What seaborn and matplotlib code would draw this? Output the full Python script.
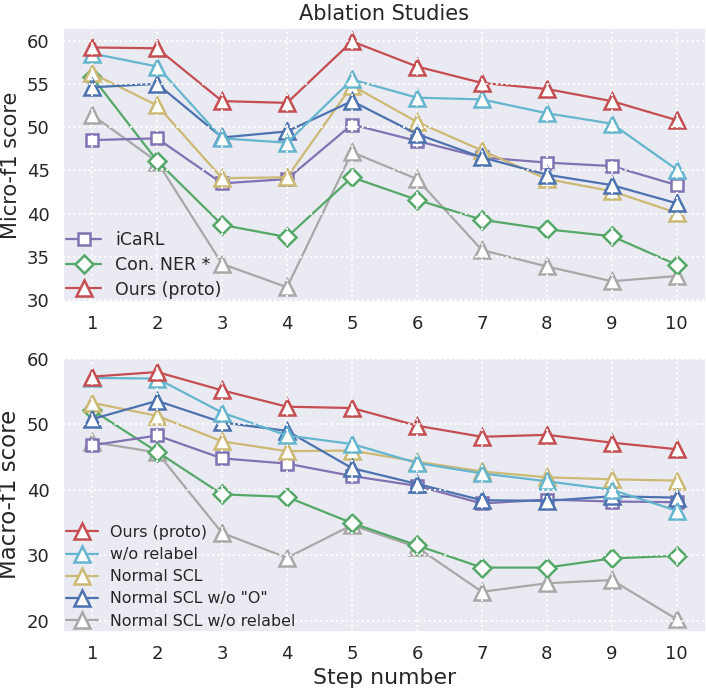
import matplotlib
matplotlib.use("Agg")
import matplotlib.pyplot as plt
import seaborn as sns

steps = [1, 2, 3, 4, 5, 6, 7, 8, 9, 10]

# Micro-f1 (top panel)
micro_icarl = [48.5, 48.7, 43.5, 44.0, 50.3, 48.4, 46.5, 45.9, 45.5, 43.3]
micro_conner = [55.8, 46.1, 38.7, 37.3, 44.2, 41.6, 39.3, 38.2, 37.4, 34.1]
micro_ours = [59.2, 59.1, 53.0, 52.8, 59.9, 57.0, 55.1, 54.4, 53.0, 50.8]
micro_norelabel = [58.5, 57.0, 48.7, 48.2, 55.5, 53.4, 53.2, 51.6, 50.4, 45.1]
micro_scl = [56.2, 52.5, 44.1, 44.2, 54.8, 50.6, 47.3, 44.0, 42.6, 40.1]
micro_scl_noO = [54.6, 55.0, 48.8, 49.5, 53.0, 49.2, 46.5, 44.5, 43.3, 41.2]
micro_scl_norelabel = [51.4, 46.0, 34.2, 31.5, 47.1, 44.0, 35.8, 33.9, 32.2, 32.8]

# Macro-f1 (bottom panel)
macro_icarl = [46.8, 48.3, 44.8, 44.0, 42.1, 40.6, 37.9, 38.5, 38.2, 38.1]
macro_conner = [52.2, 45.8, 39.3, 38.9, 34.9, 31.5, 28.1, 28.1, 29.5, 29.9]
macro_ours = [57.3, 58.0, 55.2, 52.7, 52.5, 49.8, 48.1, 48.4, 47.2, 46.2]
macro_norelabel = [57.1, 57.0, 51.8, 48.3, 47.0, 44.1, 42.5, 41.3, 40.0, 36.8]
macro_scl = [53.3, 51.3, 47.4, 45.9, 46.0, 44.3, 42.8, 41.9, 41.6, 41.4]
macro_scl_noO = [50.8, 53.6, 50.3, 49.0, 43.3, 40.9, 38.4, 38.3, 39.0, 38.8]
macro_scl_norelabel = [47.3, 45.7, 33.4, 29.6, 34.6, 31.2, 24.4, 25.7, 26.2, 20.2]

names = ["iCaRL", "Con. NER *", "Ours (proto)", "w/o relabel", "Normal SCL",
         'Normal SCL w/o "O"', "Normal SCL w/o relabel"]
micro = [micro_icarl, micro_conner, micro_ours, micro_norelabel, micro_scl,
         micro_scl_noO, micro_scl_norelabel]
macro = [macro_icarl, macro_conner, macro_ours, macro_norelabel, macro_scl,
         macro_scl_noO, macro_scl_norelabel]

colors = ["#8172B2", "#55A868", "#C44E52", "#64B5CD", "#CCB974", "#4C72B0", "#A8A8A8"]
markers = ["s", "D", "^", "^", "^", "^", "^"]
msizes = [9, 9, 11, 11, 11, 11, 11]
draw_order = [6, 1, 0, 4, 5, 3, 2]

sns.set_theme(style="darkgrid")
plt.rcParams["font.family"] = ["DejaVu Sans"]

fig = plt.figure(figsize=(7.06, 6.89), dpi=100)
ax1 = fig.add_axes([0.0892, 0.5617, 0.9108, 0.3977])
ax2 = fig.add_axes([0.0892, 0.0832, 0.9108, 0.3977])


def draw(ax, data):
    handles = {}
    for i in draw_order:
        sns.lineplot(x=steps, y=data[i], ax=ax, color=colors[i], marker=markers[i],
                     markersize=msizes[i], markerfacecolor="white",
                     markeredgecolor=colors[i], markeredgewidth=1.8,
                     linewidth=1.6, label=names[i], legend=False)
        handles[i] = ax.lines[-1]
    ax.set_axisbelow(False)
    ax.grid(True, color="white", linestyle=":", linewidth=1.4)
    ax.set_xlim(0.55, 10.45)
    ax.set_xticks(steps)
    ax.tick_params(labelsize=13)
    return handles


h1 = draw(ax1, micro)
ax1.set_ylim(29.8, 61.45)
ax1.set_yticks([30, 35, 40, 45, 50, 55, 60])
ax1.set_ylabel("Micro-f1 score", fontsize=15)
ax1.set_title("Ablation Studies", fontsize=15)
sel = [0, 1, 2]
ax1.legend([h1[i] for i in sel], [names[i] for i in sel], loc="lower left",
           frameon=False, fontsize=12.5, borderaxespad=0.0, borderpad=0.2,
           handlelength=2.0, handletextpad=0.8, labelspacing=0.38)

h2 = draw(ax2, macro)
ax2.set_ylim(18.3, 60.2)
ax2.set_yticks([20, 30, 40, 50, 60])
ax2.set_ylabel("Macro-f1 score", fontsize=16.5)
ax2.set_xlabel("Step number", fontsize=15.8)
sel = [2, 3, 4, 5, 6]
ax2.legend([h2[i] for i in sel], [names[i] for i in sel], loc="lower left",
           frameon=False, fontsize=11.4, borderaxespad=0.0, borderpad=0.2,
           handlelength=2.0, handletextpad=0.8, labelspacing=0.45)

fig.savefig("out.png", dpi=100)
